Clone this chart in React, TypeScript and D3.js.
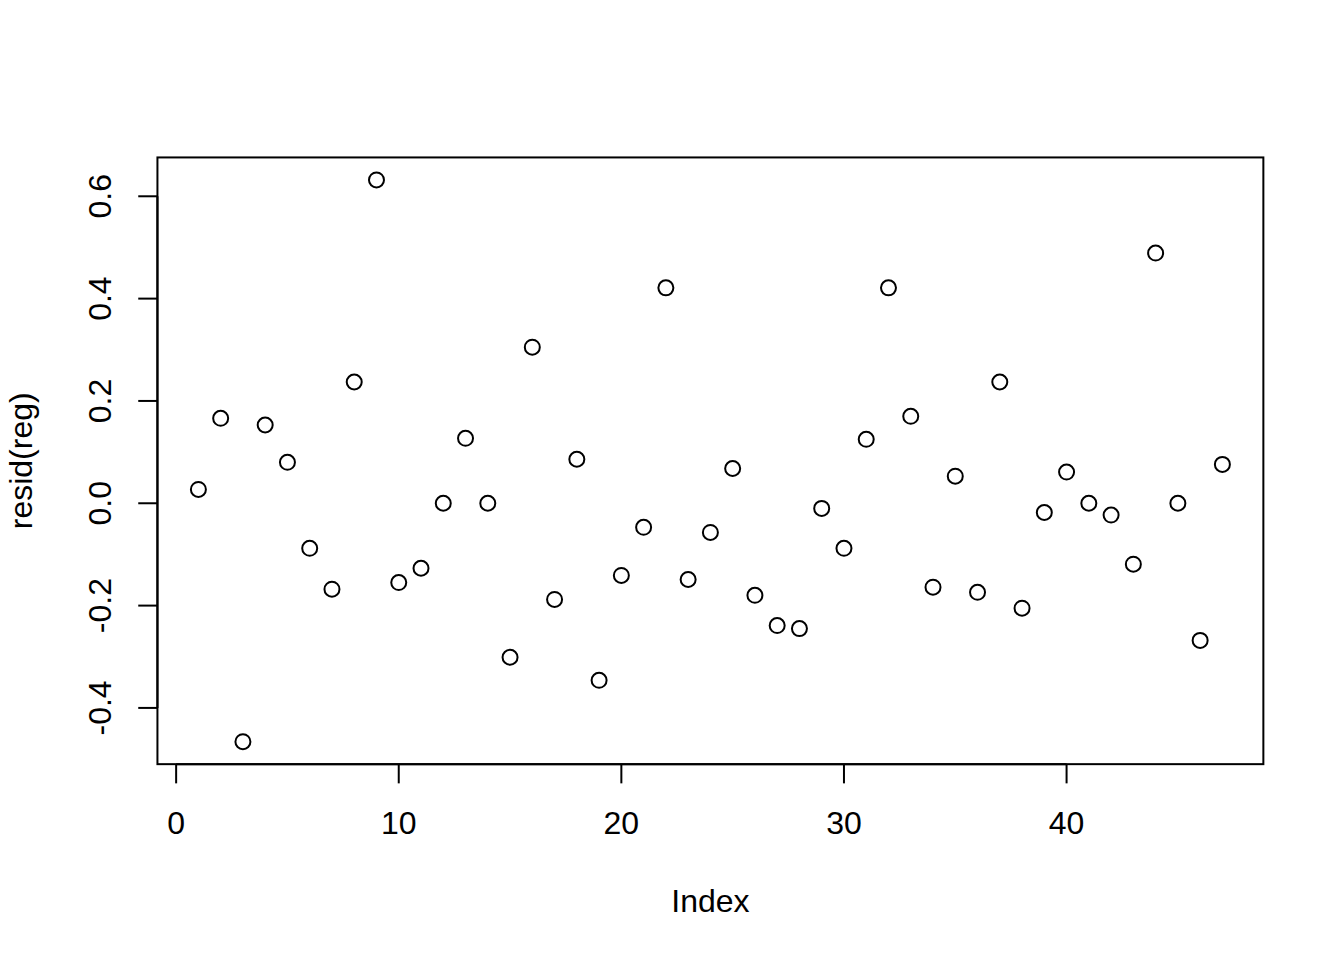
import React from "react";
import * as d3 from "d3";

const residuals: number[] = [
  0.027, 0.166, -0.466, 0.153, 0.080, -0.088, -0.168, 0.237, 0.632, -0.155,
  -0.127, 0.0, 0.127, 0.0, -0.301, 0.305, -0.188, 0.086, -0.346, -0.141,
  -0.047, 0.421, -0.149, -0.057, 0.068, -0.180, -0.239, -0.245, -0.010, -0.088,
  0.125, 0.421, 0.170, -0.164, 0.053, -0.174, 0.237, -0.205, -0.018, 0.061,
  0.0, -0.023, -0.119, 0.489, 0.0, -0.268, 0.076,
];
const xTicks: number[] = [0, 10, 20, 30, 40];
const yTicks: number[] = [-0.4, -0.2, 0.0, 0.2, 0.4, 0.6];
const xLabel = "Index";
const yLabel = "resid(reg)";

const W = 1344;
const H = 960;
const LINE = 38.4;
const left = 4.1 * LINE;
const right = W - 2.1 * LINE;
const top = 4.1 * LINE;
const bottom = H - 5.1 * LINE;
const FONT = "'Liberation Sans', Arial, Helvetica, sans-serif";

function pad(ext: [number, number]): [number, number] {
  const d = (ext[1] - ext[0]) * 0.04;
  return [ext[0] - d, ext[1] + d];
}

export default function App() {
  const idx = residuals.map((_, i) => i + 1);
  const x = d3.scaleLinear().domain(pad([1, residuals.length])).range([left, right]);
  const y = d3
    .scaleLinear()
    .domain(pad(d3.extent(residuals) as [number, number]))
    .range([bottom, top]);
  const tick = 0.5 * LINE;
  const fmt = (v: number) => (Math.abs(v) < 1e-9 ? "0.0" : v.toFixed(1));
  return (
    <svg
      width={W}
      height={H}
      style={{ position: "absolute", left: 0, top: 0, background: "#fff" }}
      fontFamily={FONT}
    >
      <rect x={0} y={0} width={W} height={H} fill="#fff" />
      <rect
        x={left}
        y={top}
        width={right - left}
        height={bottom - top}
        fill="none"
        stroke="#000"
        strokeWidth={2}
      />
      {/* x axis */}
      <line
        x1={x(xTicks[0])}
        x2={x(xTicks[xTicks.length - 1])}
        y1={bottom}
        y2={bottom}
        stroke="#000"
        strokeWidth={2}
      />
      {xTicks.map((t) => (
        <g key={"x" + t}>
          <line x1={x(t)} x2={x(t)} y1={bottom} y2={bottom + tick} stroke="#000" strokeWidth={2} />
          <text x={x(t)} y={bottom + 70} fontSize={32} textAnchor="middle" fill="#000">
            {t}
          </text>
        </g>
      ))}
      {/* y axis */}
      <line
        x1={left}
        x2={left}
        y1={y(yTicks[0])}
        y2={y(yTicks[yTicks.length - 1])}
        stroke="#000"
        strokeWidth={2}
      />
      {yTicks.map((t) => (
        <g key={"y" + t}>
          <line x1={left - tick} x2={left} y1={y(t)} y2={y(t)} stroke="#000" strokeWidth={2} />
          <text
            transform={`translate(${left - 46},${y(t)}) rotate(-90)`}
            fontSize={32}
            textAnchor="middle"
            fill="#000"
          >
            {fmt(t)}
          </text>
        </g>
      ))}
      <text x={(left + right) / 2} y={912} fontSize={32} textAnchor="middle" fill="#000">
        {xLabel}
      </text>
      <text
        transform={`translate(${32},${(top + bottom) / 2}) rotate(-90)`}
        fontSize={32}
        textAnchor="middle"
        fill="#000"
      >
        {yLabel}
      </text>
      {residuals.map((r, i) => (
        <circle
          key={i}
          cx={x(idx[i])}
          cy={y(r)}
          r={7.5}
          fill="none"
          stroke="#000"
          strokeWidth={2}
        />
      ))}
    </svg>
  );
}
